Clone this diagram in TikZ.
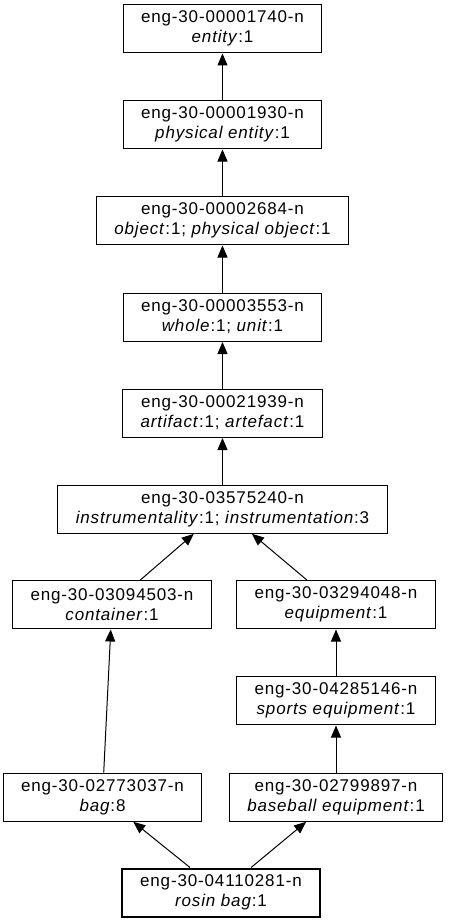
\documentclass[tikz,border=0pt]{standalone}
\usepackage{fontspec}
\setmainfont[LetterSpace=5]{Liberation Sans}
\usepackage{tikz}
\usetikzlibrary{arrows.meta}

\tikzset{
    synset/.style={rectangle, draw, line width=1pt, align=center, inner xsep=18pt,
        minimum width=197pt, minimum height=48pt, font=\fontsize{17}{20}\selectfont},
    hypernym/.style={-{Triangle[length=12pt,width=10pt]}, line width=1pt, shorten >=0.5pt}
}

\begin{document}
\begin{tikzpicture}[x=1pt, y=-1pt]
    \useasboundingbox (0,0) rectangle (450,923);
    % Hypernym chain
    \node[synset] (entity) at (222.5,28.5) {eng-30-00001740-n\\\textit{entity}:1};
    
    \node[synset] (physent) at (222.5,124.5) {eng-30-00001930-n\\\textit{physical entity}:1};
    
    \node[synset] (object) at (222.5,220.5) {eng-30-00002684-n\\\textit{object}:1; \textit{physical object}:1};
    
    \node[synset] (whole) at (222.5,317) {eng-30-00003553-n\\\textit{whole}:1; \textit{unit}:1};
    
    \node[synset] (artifact) at (222.5,413) {eng-30-00021939-n\\\textit{artifact}:1; \textit{artefact}:1};
    
    \node[synset] (instr) at (222.5,509) {eng-30-03575240-n\\\textit{instrumentality}:1; \textit{instrumentation}:3};
    
    % Two branches
    \node[synset] (container) at (112,604.5) {eng-30-03094503-n\\\textit{container}:1};
    
    \node[synset] (equipment) at (336,604.5) {eng-30-03294048-n\\\textit{equipment}:1};
    
    \node[synset] (sports) at (336,700.5) {eng-30-04285146-n\\\textit{sports equipment}:1};
    
    \node[synset] (bag) at (102.5,797) {eng-30-02773037-n\\\textit{bag}:8};
    
    \node[synset] (baseball) at (336,797) {eng-30-02799897-n\\\textit{baseball equipment}:1};
    
    % Query synset
    \node[synset, line width=2pt] (rosin) at (221,892.5) {eng-30-04110281-n\\\textit{rosin bag}:1};
    
    % Arrows
    \foreach \a/\b in {physent/entity, object/physent, whole/object, artifact/whole,
        instr/artifact, container/instr, equipment/instr, sports/equipment,
        bag/container, baseball/sports, rosin/bag, rosin/baseball} {
        \draw[hypernym] (\a) -- (\b);
    }
\end{tikzpicture}
\end{document}
